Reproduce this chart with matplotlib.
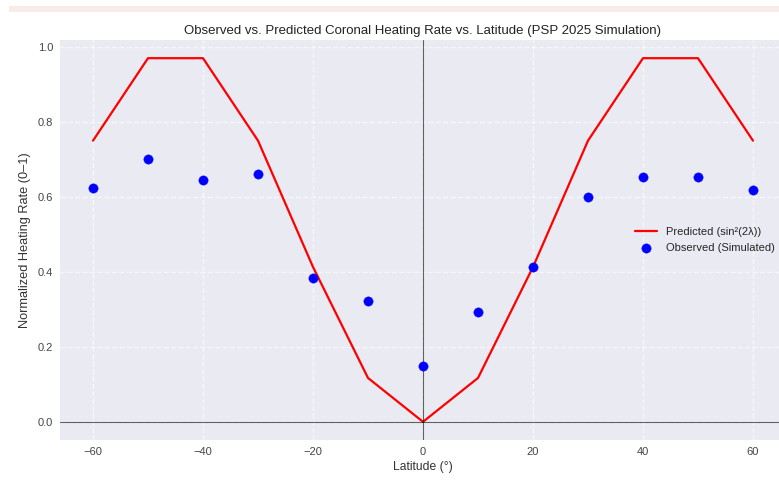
import numpy as np
import matplotlib
matplotlib.use('Agg')
import matplotlib.pyplot as plt
from matplotlib.patches import Rectangle

# latitude samples (degrees)
latitudes = [-60, -50, -40, -30, -20, -10, 0, 10, 20, 30, 40, 50, 60]
# predicted sin^2(2*lambda)
predicted = [0.75, 0.97, 0.97, 0.75, 0.413, 0.117, 0.0, 0.117, 0.413, 0.75, 0.97, 0.97, 0.75]
# simulated observations
observed = [0.625, 0.700, 0.645, 0.660, 0.383, 0.323, 0.150, 0.293, 0.413, 0.601, 0.652, 0.652, 0.618]

plt.style.use('seaborn-v0_8')
plt.rcParams['font.family'] = ['Liberation Sans', 'DejaVu Sans']

fig = plt.figure(figsize=(7.79, 4.82), dpi=100)
fig.patch.set_facecolor('white')
# pinkish strip along the top of the screenshot
fig.patches.append(Rectangle((9 / 779, 1 - 12 / 482), 1, 6 / 482, transform=fig.transFigure,
                             facecolor='#f8ebe8', edgecolor='none', figure=fig))

ax = fig.add_axes([60 / 779, 1 - 440 / 482, 726 / 779, 400 / 482])
ax.plot(latitudes, predicted, color='red', linewidth=1.6, label='Predicted (sin²(2λ))')
ax.scatter(latitudes, observed, color='blue', s=45, label='Observed (Simulated)', zorder=3)
ax.axhline(0, color='black', linewidth=0.8, alpha=0.6)
ax.axvline(0, color='black', linewidth=0.8, alpha=0.6)

ax.set_title('Observed vs. Predicted Coronal Heating Rate vs. Latitude (PSP 2025 Simulation)',
             fontsize=9.5, color='#222222', pad=4)
ax.set_xlabel('Latitude (°)', fontsize=8.7, color='#333333', labelpad=3)
ax.set_ylabel('Normalized Heating Rate (0–1)', fontsize=9.2, color='#333333', labelpad=5)
ax.tick_params(labelsize=8, colors='#444444', pad=5)
ax.grid(True, linestyle='--', alpha=0.6)
ax.legend(loc='center right', fontsize=8, frameon=False, borderaxespad=0.6)

fig.savefig('out.png', dpi=100)
